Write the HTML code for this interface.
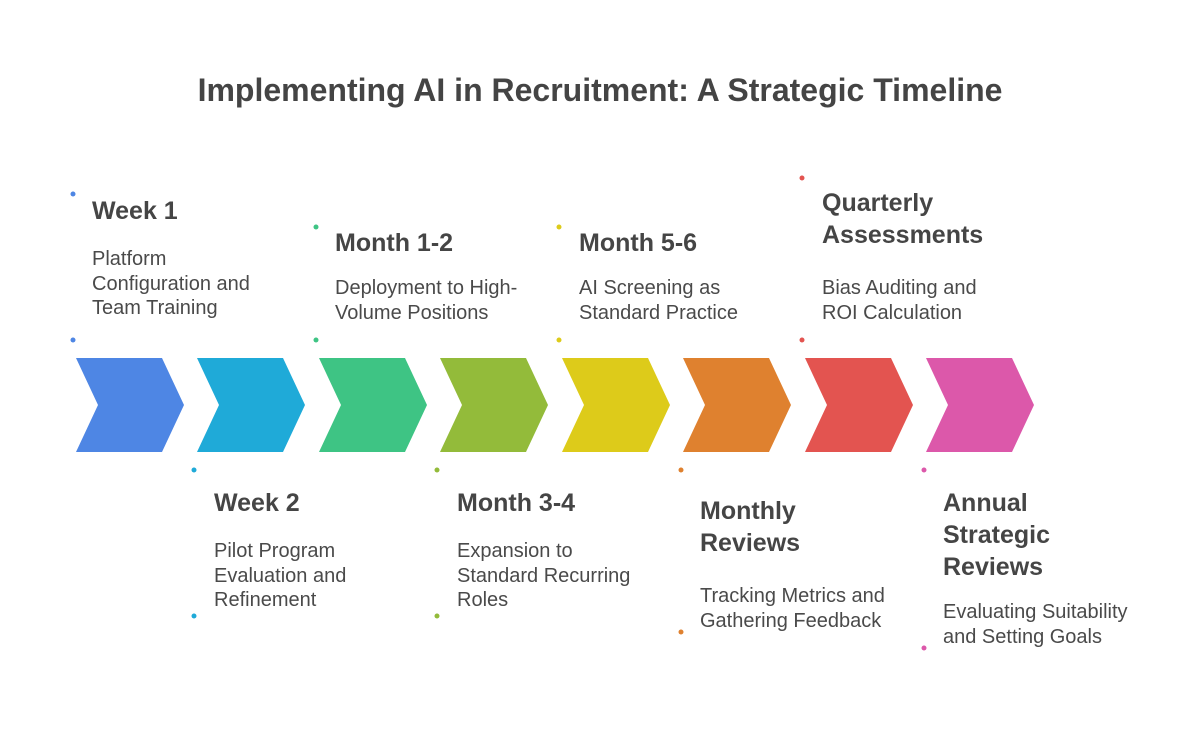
<!DOCTYPE html>
<html><head><meta charset="utf-8"><style>
body{margin:0;width:1200px;height:746px;background:#fff;position:relative;overflow:hidden;font-family:"Liberation Sans",Arial,sans-serif;color:#484848}
.t{position:absolute;left:0;width:1200px;top:70px;text-align:center;font-size:32px;font-weight:bold;color:#444;line-height:40px}
.h{position:absolute;font-size:25px;font-weight:bold;line-height:32px;white-space:nowrap;color:#454545}
.b{position:absolute;font-size:20px;line-height:24.5px;white-space:nowrap;color:#4a4a4a}
svg{position:absolute;left:0;top:0}
</style></head><body>
<div class="t">Implementing AI in Recruitment: A Strategic Timeline</div>
<svg width="1200" height="746">
<g>
<polygon points="76,358 162,358 184,405 162,452 76,452 98,405" fill="#4E86E4"/>
<polygon points="197,358 283,358 305,405 283,452 197,452 219,405" fill="#1FAAD8"/>
<polygon points="319,358 405,358 427,405 405,452 319,452 341,405" fill="#3EC484"/>
<polygon points="440,358 526,358 548,405 526,452 440,452 462,405" fill="#93BB3A"/>
<polygon points="562,358 648,358 670,405 648,452 562,452 584,405" fill="#DDCB1A"/>
<polygon points="683,358 769,358 791,405 769,452 683,452 705,405" fill="#DF812F"/>
<polygon points="805,358 891,358 913,405 891,452 805,452 827,405" fill="#E35450"/>
<polygon points="926,358 1012,358 1034,405 1012,452 926,452 948,405" fill="#DC58AA"/>
</g>
<g>
<circle cx="73" cy="194" r="2.5" fill="#4E86E4"/><circle cx="73" cy="340" r="2.5" fill="#4E86E4"/>
<circle cx="194" cy="470" r="2.5" fill="#1FAAD8"/><circle cx="194" cy="616" r="2.5" fill="#1FAAD8"/>
<circle cx="316" cy="227" r="2.5" fill="#3EC484"/><circle cx="316" cy="340" r="2.5" fill="#3EC484"/>
<circle cx="437" cy="470" r="2.5" fill="#93BB3A"/><circle cx="437" cy="616" r="2.5" fill="#93BB3A"/>
<circle cx="559" cy="227" r="2.5" fill="#DDCB1A"/><circle cx="559" cy="340" r="2.5" fill="#DDCB1A"/>
<circle cx="681" cy="470" r="2.5" fill="#DF812F"/><circle cx="681" cy="632" r="2.5" fill="#DF812F"/>
<circle cx="802" cy="178" r="2.5" fill="#E35450"/><circle cx="802" cy="340" r="2.5" fill="#E35450"/>
<circle cx="924" cy="470" r="2.5" fill="#DC58AA"/><circle cx="924" cy="648" r="2.5" fill="#DC58AA"/>
</g>
</svg>
<div class="h" style="left:92px;top:195px">Week 1</div>
<div class="b" style="left:92px;top:247px">Platform<br>Configuration and<br>Team Training</div>
<div class="h" style="left:335px;top:227px">Month 1-2</div>
<div class="b" style="left:335px;top:276px">Deployment to High-<br>Volume Positions</div>
<div class="h" style="left:579px;top:227px">Month 5-6</div>
<div class="b" style="left:579px;top:276px">AI Screening as<br>Standard Practice</div>
<div class="h" style="left:822px;top:187px">Quarterly<br>Assessments</div>
<div class="b" style="left:822px;top:276px">Bias Auditing and<br>ROI Calculation</div>
<div class="h" style="left:214px;top:487px">Week 2</div>
<div class="b" style="left:214px;top:539px">Pilot Program<br>Evaluation and<br>Refinement</div>
<div class="h" style="left:457px;top:487px">Month 3-4</div>
<div class="b" style="left:457px;top:539px">Expansion to<br>Standard Recurring<br>Roles</div>
<div class="h" style="left:700px;top:495px">Monthly<br>Reviews</div>
<div class="b" style="left:700px;top:584px">Tracking Metrics and<br>Gathering Feedback</div>
<div class="h" style="left:943px;top:487px">Annual<br>Strategic<br>Reviews</div>
<div class="b" style="left:943px;top:600px">Evaluating Suitability<br>and Setting Goals</div>
</body></html>
